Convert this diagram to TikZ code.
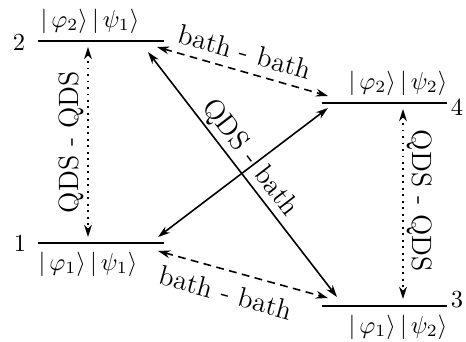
\documentclass[tikz,border=0pt]{standalone}
\usetikzlibrary{arrows.meta}
\begin{document}
\begin{tikzpicture}[x=0.408pt,y=-0.408pt,
  level/.style={line width=1.1pt},
  conn/.style={line width=0.65pt,{Stealth[length=5pt,width=3.2pt]}-{Stealth[length=5pt,width=3.2pt]}},
  dotline/.style={conn,dotted},
  dashline/.style={conn,dash pattern=on 3.2pt off 2.2pt},
  lbl/.style={inner sep=0pt},
  big/.style={inner sep=0pt,font=\fontsize{11.4}{13}\selectfont}]
\useasboundingbox (0,0) rectangle (466,341);
% levels
\draw[level] (38,41) coordinate (L2a) -- (164,41) coordinate (L2b);
\draw[level] (322,103) coordinate (L4a) -- (447,103) coordinate (L4b);
\draw[level] (38,243) coordinate (L1a) -- (164,243) coordinate (L1b);
\draw[level] (322,306) coordinate (L3a) -- (447,306) coordinate (L3b);
% level numbers
\node[lbl] (n2) at (19,42) {2};
\node[lbl] (n1) at (20,243) {1};
\node[lbl] (n4) at (457,107) {4};
\node[lbl] (n3) at (457,300) {3};
% kets
\node[lbl] (k2) at (90,21) {$|\,\varphi_2\rangle\,|\,\psi_1\rangle$};
\node[lbl] (k4) at (398,83) {$|\,\varphi_2\rangle\,|\,\psi_2\rangle$};
\node[lbl] (k1) at (88,264) {$|\,\varphi_1\rangle\,|\,\psi_1\rangle$};
\node[lbl] (k3) at (398,327) {$|\,\varphi_1\rangle\,|\,\psi_2\rangle$};
% connector ends
\coordinate (q2) at (88,47);
\coordinate (q1) at (88,237);
\coordinate (q4) at (403,109);
\coordinate (q3) at (403,299);
\coordinate (b2) at (157,47);
\coordinate (b4) at (328,96);
\coordinate (b1) at (158,251);
\coordinate (b3) at (328,298);
\coordinate (s2) at (148,52);
\coordinate (s3) at (337,297);
\coordinate (s1) at (158,237);
\coordinate (s4) at (328,108);
% connectors
\draw[dotline] (q2) -- (q1);
\draw[dotline] (q4) -- (q3);
\draw[dashline] (b2) -- (b4);
\draw[dashline] (b1) -- (b3);
\draw[conn] (s2) -- (s3);
\draw[conn] (s1) -- (s4);
% labels
\node[big,rotate=90] (t1) at (71,142) {QDS - QDS};
\node[big,rotate=-90] (t2) at (420,201) {QDS - QDS};
\node[big,rotate=-16] (t3) at (245,52) {bath - bath};
\node[big,rotate=-15.5] (t4) at (226,293) {bath - bath};
\node[big,rotate=-52.5] (t5) at (250,158) {QDS - bath};
\end{tikzpicture}
\end{document}
